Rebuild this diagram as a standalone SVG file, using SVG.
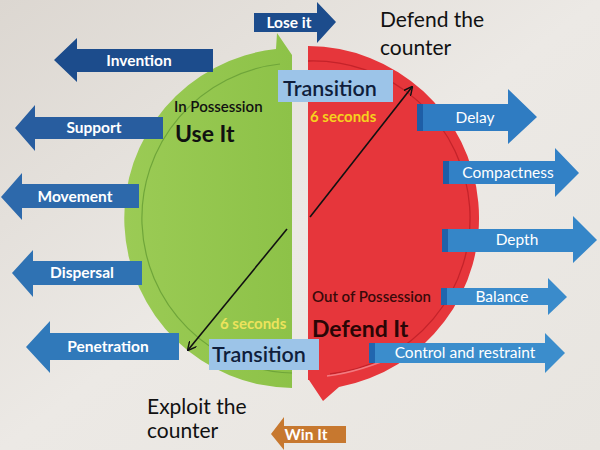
<svg xmlns="http://www.w3.org/2000/svg" width="600" height="450" viewBox="0 0 600 450">
<defs>
<linearGradient id="bg" x1="0" y1="0" x2="1" y2="1">
<stop offset="0" stop-color="#DCD7D1"/>
<stop offset="0.5" stop-color="#ECE9E5"/>
<stop offset="1" stop-color="#E8E5E0"/>
</linearGradient>
<linearGradient id="gr" x1="0" y1="0" x2="1" y2="0">
<stop offset="0" stop-color="#9BCB55"/>
<stop offset="1" stop-color="#8DC248"/>
</linearGradient>
<marker id="ah" viewBox="0 0 10 10" refX="9" refY="5" markerWidth="9" markerHeight="9" orient="auto" markerUnits="userSpaceOnUse">
<path d="M0 0 L10 5 L0 10" fill="none" stroke="#111" stroke-width="1.6"/>
</marker>
<style>
.lt{fill:#fff;font-family:Lato,"Open Sans",sans-serif;font-weight:bold;font-size:15.5px;text-anchor:middle}
.rt{fill:#fff;font-family:Lato,"Open Sans",sans-serif;font-size:15.5px;text-anchor:middle}
.tr{fill:#9CC4E8}
.trt{fill:#0F1E3C;font-family:Lato,"Open Sans",sans-serif;font-size:21.5px;font-weight:600;text-anchor:middle}
.sec{font-family:Lato,"Open Sans",sans-serif;font-size:15px;font-weight:bold}
.big{font-family:Lato,"Open Sans",sans-serif;font-size:23px;font-weight:bold}
.lbl{font-family:Lato,"Open Sans",sans-serif;font-size:15px;font-weight:600}
.cap{fill:#111;font-family:Lato,"Open Sans",sans-serif;font-size:21px}
</style>
</defs>
<rect width="600" height="450" fill="url(#bg)"/>

<g id="possession">
<path d="M292 388 A170 170 0 0 1 276 49 L277 33 L292 55 Z" fill="url(#gr)"/>
<path d="M292 373 A155 155 0 0 1 280 64" fill="none" stroke="#6FA53A" stroke-width="1.2"/>
<text class="lbl" x="174" y="112" fill="#111">In Possession</text>
<text class="big" x="175" y="142" fill="#111">Use It</text>
</g>

<g id="out-of-possession">
<path d="M308 46 A172 172 0 0 1 339 387 L323 401 L309 380 L308 380 Z" fill="#E6363B"/>
<path d="M308 61 A157 157 0 0 1 330 374" fill="none" stroke="#C4232A" stroke-width="1.3"/>
<path d="M327 376 Q360 372 400 354" fill="none" stroke="#F27A80" stroke-width="1.5"/>
<text class="lbl" x="312" y="302" fill="#3A0A0A" font-size="14.7">Out of Possession</text>
<text class="big" x="312" y="337" fill="#2A0606">Defend It</text>
</g>

<g id="connectors">
<line x1="310" y1="217" x2="412" y2="87" stroke="#111" stroke-width="1.6" marker-end="url(#ah)"/>
<line x1="287" y1="229" x2="188" y2="350" stroke="#111" stroke-width="1.6" marker-end="url(#ah)"/>
</g>

<g id="transition-top">
<rect class="tr" x="278" y="70" width="115" height="32"/>
<text class="trt" x="330" y="96">Transition</text>
<text class="sec" x="310" y="122" fill="#F6D21E">6 seconds</text>
</g>
<g id="transition-bottom">
<rect class="tr" x="209" y="339" width="110" height="31"/>
<text class="trt" x="259" y="362" font-size="20">Transition</text>
<text class="sec" x="220" y="329" fill="#ECE35C">6 seconds</text>
</g>

<g id="invention">
<polygon points="54,60 77,38 77,49 213,49 213,72 77,72 77,82" fill="#1C4C8C"/>
<text class="lt" x="139" y="66">Invention</text>
</g>
<g id="support">
<polygon points="15,128 35,105 35,117 163,117 163,139 35,139 35,151" fill="#285D9F"/>
<text class="lt" x="94" y="133">Support</text>
</g>
<g id="movement">
<polygon points="1,197 22,173 22,184 139,184 139,208 22,208 22,220" fill="#2D69AB"/>
<text class="lt" x="75" y="202">Movement</text>
</g>
<g id="dispersal">
<polygon points="12,273 33,250 33,261 142,261 142,285 33,285 33,297" fill="#2F72B3"/>
<text class="lt" x="82" y="278">Dispersal</text>
</g>
<g id="penetration">
<polygon points="26,347 50,321 50,333 179,333 179,360 50,360 50,373" fill="#3079BA"/>
<text class="lt" x="108" y="352">Penetration</text>
</g>

<g id="delay">
<polygon points="417,104 508,104 508,89 537,117 508,144 508,131 417,131" fill="#2F7CC2"/>
<rect x="417" y="104" width="6" height="27" fill="#1E5EA6"/>
<text class="rt" x="475" y="123">Delay</text>
</g>
<g id="compactness">
<polygon points="443,161 555,161 555,148 579,173 555,197 555,184 443,184" fill="#3281C6"/>
<rect x="443" y="161" width="6" height="23" fill="#1E5EA6"/>
<text class="rt" x="508" y="178">Compactness</text>
</g>
<g id="depth">
<polygon points="442,229 573,229 573,216 597,240 573,263 573,252 442,252" fill="#3586C8"/>
<rect x="442" y="229" width="6" height="23" fill="#1F62AA"/>
<text class="rt" x="517" y="245">Depth</text>
</g>
<g id="balance">
<polygon points="441,288 548,288 548,278 567,297 548,315 548,305 441,305" fill="#3A8BCB"/>
<rect x="441" y="288" width="6" height="17" fill="#2166AE"/>
<text class="rt" x="502" y="302">Balance</text>
</g>
<g id="control">
<polygon points="369,343 545,343 545,333 565,353 545,373 545,363 369,363" fill="#3B8DCC"/>
<rect x="369" y="343" width="6" height="20" fill="#2166AE"/>
<text class="rt" x="465" y="358" font-size="15">Control and restraint</text>
</g>

<g id="lose-it">
<polygon points="254,13 317,13 317,2 336,22 317,43 317,32 254,32" fill="#1C4C8C"/>
<text class="lt" x="289" y="28">Lose it</text>
</g>
<g id="win-it">
<polygon points="271,434 284,417 284,426 346,426 346,443 284,443 284,450" fill="#C7782F"/>
<text class="lt" x="306" y="440">Win It</text>
</g>

<g id="defend-counter">
<text class="cap" x="380" y="27">Defend the</text>
<text class="cap" x="380" y="55">counter</text>
</g>
<g id="exploit-counter">
<text class="cap" x="147" y="414" font-size="19">Exploit the</text>
<text class="cap" x="147" y="438" font-size="19">counter</text>
</g>
</svg>
